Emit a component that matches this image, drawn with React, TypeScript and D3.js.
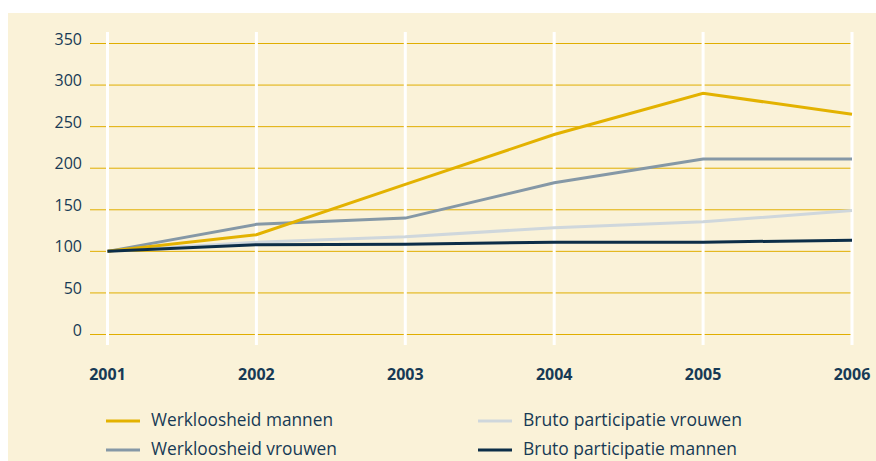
import React from "react";
import * as d3 from "d3";

const years = ["2001", "2002", "2003", "2004", "2005", "2006"];
const yTicks = [0, 50, 100, 150, 200, 250, 300, 350];

const werkloosheidMannen = [100, 120, 180.5, 240.5, 290, 265];
const werkloosheidVrouwen = [100, 132.5, 140, 182.5, 211, 211];
const brutoParticipatieVrouwen = [100, 111, 117.5, 128.5, 135.5, 149];
const brutoParticipatieMannen = [100, 108, 108.5, 111, 111, 113.5];

const seriesNames = [
  "Werkloosheid mannen",
  "Werkloosheid vrouwen",
  "Bruto participatie vrouwen",
  "Bruto participatie mannen",
];
const seriesColors = ["#e3b200", "#8598a6", "#cfd7dc", "#0c2e48"];
const seriesValues = [
  werkloosheidMannen,
  werkloosheidVrouwen,
  brutoParticipatieVrouwen,
  brutoParticipatieMannen,
];
const legendTextWidths = [182, 186, 219, 214];
const drawOrder = [2, 1, 0, 3];

const W = 876;
const H = 461;
const textColor = "#173a55";

export default function App() {
  const x = d3.scalePoint<string>().domain(years).range([107.5, 852]);
  const y = d3.scaleLinear().domain([0, 350]).range([334.5, 43.5]);
  const line = d3
    .line<number>()
    .x((_, i) => x(years[i]) as number)
    .y((d) => y(d));

  const legendPos = [
    { lx: 106, ly: 421 },
    { lx: 106, ly: 450 },
    { lx: 478, ly: 421 },
    { lx: 478, ly: 450 },
  ];

  return (
    <div style={{ position: "absolute", left: 0, top: 0 }}>
      <svg width={W} height={H} style={{ display: "block" }}>
        <rect x={0} y={0} width={W} height={H} fill="#ffffff" />
        <rect x={8} y={13} width={W - 8} height={H - 13} fill="#faf2d8" />
        {yTicks.map((t) => (
          <g key={t}>
            <line
              x1={90}
              x2={851}
              y1={y(t)}
              y2={y(t)}
              stroke="#e0ae00"
              strokeWidth={1}
            />
            <text
              x={82}
              y={y(t) + 1}
              textAnchor="end"
              fontFamily="'Open Sans', sans-serif"
              fontSize={16}
              fontWeight={500}
              fill={textColor}
            >
              {t}
            </text>
          </g>
        ))}
        {years.map((yr) => (
          <g key={yr}>
            <line
              x1={x(yr)}
              x2={x(yr)}
              y1={32}
              y2={345}
              stroke="#ffffff"
              strokeWidth={3}
            />
            <text
              x={x(yr)}
              y={380}
              textAnchor="middle"
              fontFamily="'Open Sans', sans-serif"
              fontWeight="bold"
              fontSize={16}
              fill={textColor}
            >
              {yr}
            </text>
          </g>
        ))}
        {drawOrder.map((i) => (
          <path
            key={seriesNames[i]}
            d={line(seriesValues[i]) || ""}
            fill="none"
            stroke={seriesColors[i]}
            strokeWidth={3}
            strokeLinejoin="miter"
          />
        ))}
        {seriesNames.map((name, i) => (
          <g key={name}>
            <line
              x1={legendPos[i].lx}
              x2={legendPos[i].lx + 34}
              y1={legendPos[i].ly}
              y2={legendPos[i].ly}
              stroke={seriesColors[i]}
              strokeWidth={3}
            />
            <text
              x={legendPos[i].lx + 45}
              y={legendPos[i].ly + 5}
              fontFamily="'Open Sans', sans-serif"
              fontSize={18}
              textLength={legendTextWidths[i]}
              lengthAdjust="spacingAndGlyphs"
              fill={textColor}
            >
              {name}
            </text>
          </g>
        ))}
      </svg>
    </div>
  );
}
